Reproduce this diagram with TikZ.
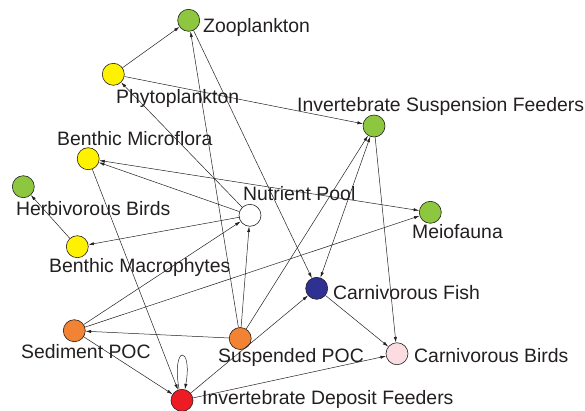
\documentclass[tikz,border=0pt]{standalone}
\usepackage{fontspec}
\setmainfont{Liberation Sans}
\usetikzlibrary{arrows.meta}
\definecolor{ink}{RGB}{35,31,32}
\definecolor{leaf}{RGB}{141,198,63}
\definecolor{sun}{RGB}{255,242,0}
\definecolor{rust}{RGB}{242,131,52}
\definecolor{navy}{RGB}{46,49,146}
\definecolor{scarlet}{RGB}{237,28,36}
\definecolor{blush}{RGB}{251,221,225}
\begin{document}
\begin{tikzpicture}[x=1pt,y=-1pt,
  sp/.style={circle,draw=ink,line width=0.6pt,minimum size=22pt,inner sep=0pt},
  lbl/.style={font=\fontsize{19.4}{22}\selectfont,text=ink,inner sep=0pt,anchor=base west},
  arr/.style={draw=ink,line width=0.5pt,-{Latex[length=5.5pt,width=3.2pt]}},
  biarr/.style={draw=ink,line width=0.5pt,{Latex[length=5.5pt,width=3.2pt]}-{Latex[length=5.5pt,width=3.2pt]}}]
\useasboundingbox (0,0) rectangle (585,410);

% species / compartments
\node[sp,fill=leaf]    (zoo)   at (188.7,20.3)  {};
\node[sp,fill=sun]     (phyto) at (113.3,74.3)  {};
\node[sp,fill=sun]     (bmf)   at (88.2,158.7)  {};
\node[sp,fill=leaf]    (hb)    at (23.3,186.7)  {};
\node[sp,fill=sun]     (bmac)  at (77.3,246.7)  {};
\node[sp,fill=white]   (np)    at (250,215.3)   {};
\node[sp,fill=leaf]    (isf)   at (374,126)     {};
\node[sp,fill=leaf]    (meio)  at (430.3,212.3) {};
\node[sp,fill=navy]    (fish)  at (316.7,288.3) {};
\node[sp,fill=blush]   (birds) at (397,353.7)   {};
\node[sp,fill=rust]    (sed)   at (74.3,330.7)  {};
\node[sp,fill=rust]    (spoc)  at (240.2,338.5) {};
\node[sp,fill=scarlet] (idf)   at (182,400.3)   {};

% labels
\node[lbl] (tzoo)   at (203,32)  {Zooplankton};
\node[lbl] (tphyto) at (116,103) {Phytoplankton};
\node[lbl] (tbmf)   at (57,145)  {Benthic Microflora};
\node[lbl] (tisf)   at (297,111) {Invertebrate Suspension Feeders};
\node[lbl] (tnp)    at (243,200) {Nutrient Pool};
\node[lbl] (thb)    at (16,215)  {Herbivorous Birds};
\node[lbl] (tbmac)  at (49,272)  {Benthic Macrophytes};
\node[lbl] (tmeio)  at (412,238) {Meiofauna};
\node[lbl] (tfish)  at (333,299) {Carnivorous Fish};
\node[lbl] (tbirds) at (414,362) {Carnivorous Birds};
\node[lbl] (tsed)   at (21,358)  {Sediment POC};
\node[lbl] (tspoc)  at (218,362) {Suspended POC};
\node[lbl] (tidf)   at (202,404) {Invertebrate Deposit Feeders};

% flows
\draw[arr] (phyto) -- (zoo);
\draw[arr] (phyto) -- (isf);
\draw[arr] (np) -- (phyto);
\draw[arr] (spoc) -- (zoo);
\draw[arr] (zoo) -- (fish);
\draw[arr] (np) -- (bmf);
\draw[biarr] (bmf) -- (meio);
\draw[arr] (np) -- (bmac);
\draw[arr] (bmac) -- (hb);
\draw[arr] (sed) -- (np);
\draw[arr] (spoc) -- (np);
\draw[arr] (spoc) -- (sed);
\draw[arr] (sed) -- (meio);
\draw[arr] (sed) -- (idf);
\draw[arr] (bmf) -- (idf);
\draw[arr] (idf.105) .. controls +(-8,-45) and +(8,-45) .. (idf.75);
\draw[arr] (idf) -- (fish);
\draw[arr] (spoc) -- (isf);
\draw[biarr] (fish) -- (isf);
\draw[arr] (isf) -- (birds);
\draw[arr] (fish) -- (birds);
\draw[arr] (idf) -- (birds);
\end{tikzpicture}
\end{document}
